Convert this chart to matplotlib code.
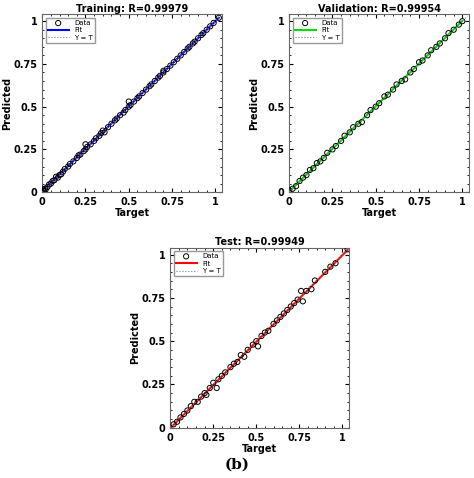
import matplotlib
matplotlib.use("Agg")
import matplotlib.pyplot as plt
import numpy as np

train_t = [0.0,0.005,0.01,0.015,0.02,0.03,0.04,0.05,0.06,0.07,0.08,0.09,0.1,0.11,0.12,0.13,0.15,0.16,0.18,0.2,0.21,0.22,0.24,0.25,0.25,0.26,0.28,0.3,0.31,0.33,0.34,0.35,0.36,0.38,0.4,0.42,0.43,0.45,0.47,0.48,0.5,0.5,0.51,0.53,0.55,0.56,0.58,0.6,0.62,0.63,0.65,0.67,0.68,0.7,0.7,0.72,0.74,0.76,0.78,0.8,0.82,0.84,0.85,0.87,0.88,0.9,0.92,0.93,0.95,0.97,0.99,1.02]
train_p = [0.02,0.01,0.005,0.02,0.015,0.03,0.045,0.05,0.065,0.07,0.09,0.085,0.1,0.105,0.12,0.135,0.15,0.165,0.18,0.2,0.215,0.22,0.24,0.28,0.25,0.265,0.28,0.3,0.315,0.33,0.345,0.36,0.35,0.38,0.4,0.42,0.43,0.45,0.465,0.48,0.53,0.5,0.51,0.53,0.55,0.56,0.58,0.6,0.62,0.63,0.65,0.67,0.68,0.71,0.7,0.72,0.74,0.76,0.78,0.8,0.82,0.84,0.85,0.87,0.88,0.9,0.92,0.93,0.95,0.97,0.99,1.02]

val_t = [0.0,0.02,0.04,0.06,0.08,0.1,0.12,0.14,0.16,0.18,0.2,0.22,0.25,0.27,0.3,0.32,0.35,0.37,0.4,0.42,0.45,0.47,0.5,0.52,0.55,0.57,0.6,0.62,0.65,0.67,0.7,0.72,0.75,0.77,0.8,0.82,0.85,0.87,0.9,0.92,0.95,0.98,1.0]
val_p = [0.01,0.02,0.035,0.065,0.085,0.1,0.13,0.14,0.17,0.18,0.2,0.23,0.25,0.27,0.3,0.33,0.35,0.38,0.4,0.41,0.45,0.48,0.5,0.52,0.56,0.57,0.6,0.63,0.65,0.66,0.7,0.72,0.76,0.77,0.8,0.83,0.85,0.87,0.9,0.93,0.95,0.98,1.0]

test_t = [0.02,0.04,0.06,0.08,0.1,0.12,0.14,0.16,0.18,0.2,0.21,0.23,0.25,0.27,0.28,0.3,0.32,0.35,0.37,0.39,0.41,0.43,0.45,0.48,0.5,0.51,0.53,0.55,0.57,0.6,0.62,0.64,0.66,0.68,0.7,0.72,0.74,0.76,0.77,0.79,0.82,0.84,0.9,0.93,0.96,1.03]
test_p = [0.02,0.035,0.06,0.08,0.1,0.125,0.15,0.15,0.18,0.2,0.19,0.23,0.26,0.23,0.28,0.3,0.32,0.35,0.37,0.38,0.42,0.41,0.45,0.48,0.5,0.47,0.53,0.55,0.56,0.6,0.62,0.64,0.66,0.68,0.7,0.72,0.74,0.79,0.73,0.79,0.8,0.85,0.9,0.93,0.95,1.03]

panels = [
    ("Training: R=0.99979", train_t, train_p, "#0000ff", [0.089, 0.598, 0.38, 0.372], True),
    ("Validation: R=0.99954", val_t, val_p, "#00dd00", [0.61, 0.598, 0.38, 0.372], True),
    ("Test: R=0.99949", test_t, test_p, "#ff0000", [0.359, 0.105, 0.378, 0.377], True),
]

fig = plt.figure(figsize=(4.74, 4.78), dpi=100)
ticks = [0, 0.25, 0.5, 0.75, 1]
for title, t, p, c, rect, _ in panels:
    ax = fig.add_axes(rect)
    t = np.array(t); p = np.array(p)
    ax.scatter(t, p, s=14, facecolors="none", edgecolors="black", linewidths=0.7, label="Data", zorder=3)
    a, b = np.polyfit(t, p, 1)
    xs = np.array([0, max(t)])
    ax.plot(xs, a * xs + b, color=c, lw=1.5, label="Fit", zorder=2)
    ax.plot([0, 1.03], [0, 1.03], ls=":", color="gray", lw=0.8, label="Y = T", zorder=4)
    ax.set_xlim(0, 1.04); ax.set_ylim(0, 1.04)
    ax.set_xticks(ticks); ax.set_yticks(ticks)
    ax.set_xticklabels(["0", "0.25", "0.5", "0.75", "1"], fontsize=7, fontweight="bold")
    ax.set_yticklabels(["0", "0.25", "0.5", "0.75", "1"], fontsize=7, fontweight="bold")
    ax.minorticks_on()
    ax.tick_params(which="both", direction="in", top=True, right=True, length=3)
    ax.tick_params(which="minor", length=1.5)
    ax.set_title(title, fontsize=7, fontweight="bold", pad=2)
    ax.set_xlabel("Target", fontsize=7, fontweight="bold", labelpad=1)
    ax.set_ylabel("Predicted", fontsize=7, fontweight="bold", labelpad=1)
    for s in ax.spines.values():
        s.set_color("#666666")
    ax.legend(loc="upper left", fontsize=5, frameon=True, fancybox=False, edgecolor="gray",
              handlelength=3, borderpad=0.3, labelspacing=0.2)

fig.text(0.5, 0.02, "(b)", ha="center", fontsize=11, fontweight="bold", family="DejaVu Serif")
fig.savefig("out.png", dpi=100, facecolor="white")
